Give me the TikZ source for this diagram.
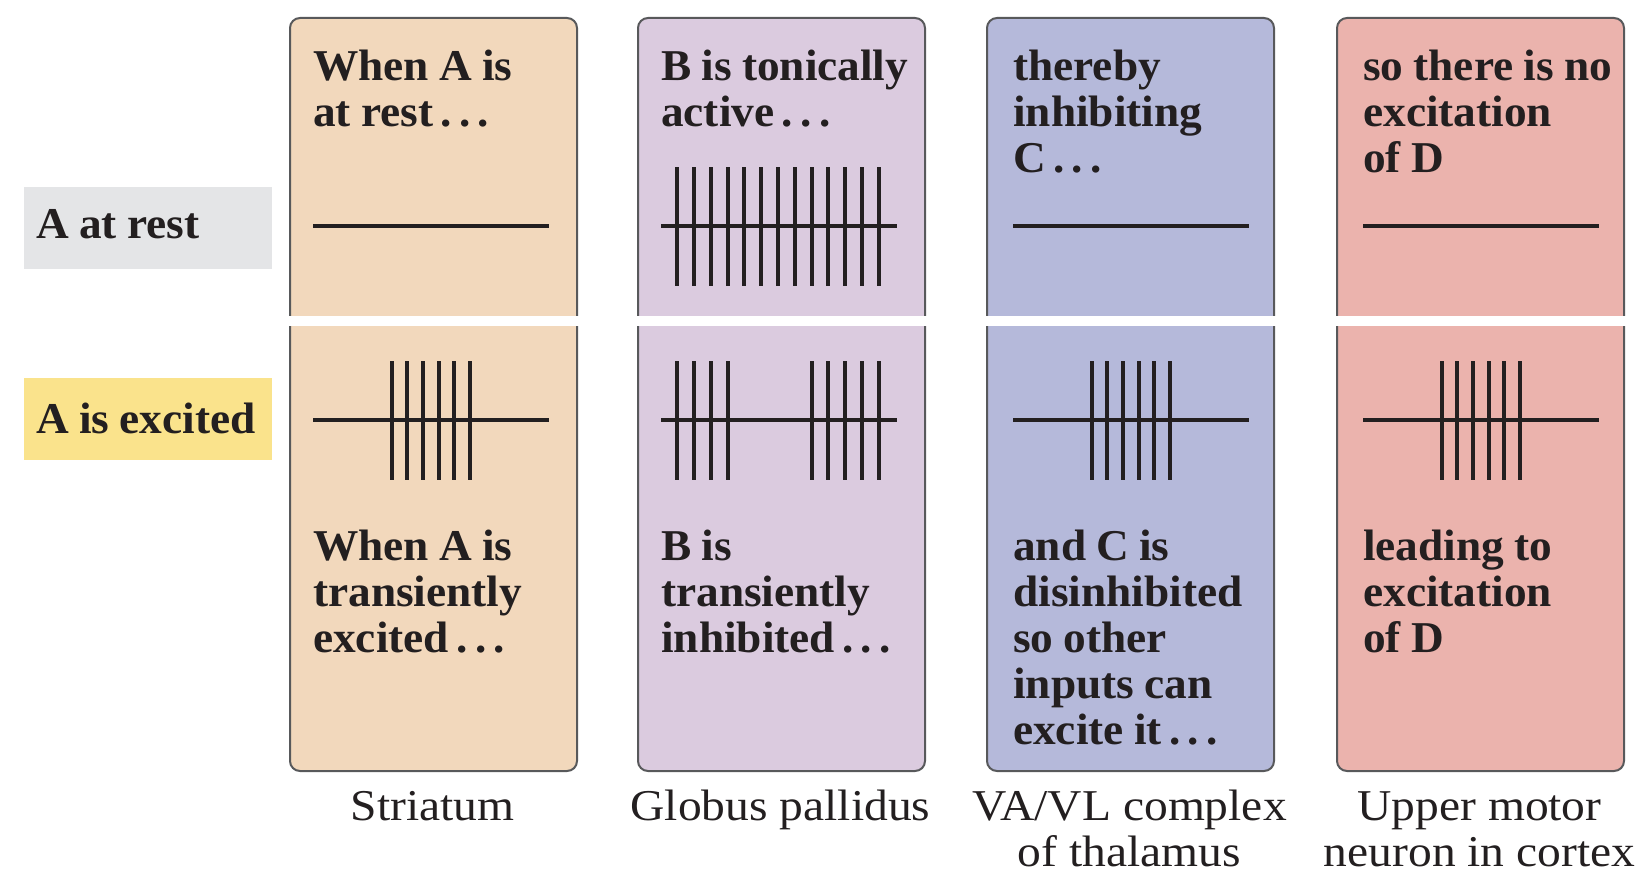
\documentclass[tikz,border=0pt]{standalone}
\usepackage{fontspec}
\setmainfont{Liberation Serif}[BoldFeatures={FakeStretch=1.03, WordSpace=0.9}]
\newfontfamily\widefont{Liberation Serif}[FakeStretch=1.08]

\definecolor{ink}{HTML}{231F20}
\definecolor{frame}{HTML}{58595B}
\definecolor{peach}{HTML}{F2D8BC}
\definecolor{lilac}{HTML}{DBCBDF}
\definecolor{periwinkle}{HTML}{B5B9DA}
\definecolor{salmon}{HTML}{EBB3AD}
\definecolor{restgrey}{HTML}{E4E5E7}
\definecolor{excitedyellow}{HTML}{FAE38C}

\tikzset{
  panel/.style={draw=frame, line width=2pt, rounded corners=10pt,
    anchor=north west, minimum width=287pt, minimum height=753pt, inner sep=0pt},
  gapband/.style={fill=white, draw=none},
  tagbox/.style={draw=none, anchor=north west, minimum width=248pt,
    minimum height=82pt, inner sep=0pt},
  trace/.style={line width=4.5pt, draw=ink},
  spike/.style={line width=4pt, draw=ink},
  blurb/.style={anchor=base west, inner sep=0pt, text width=275pt, align=flush left,
    font=\fontsize{44}{46}\selectfont\bfseries, text=ink},
  tagtext/.style={anchor=base west, inner sep=0pt,
    font=\fontsize{44}{46}\selectfont\bfseries, text=ink},
  region/.style={anchor=base, inner sep=0pt, align=center,
    font=\widefont\fontsize{44}{46}\selectfont, text=ink},
}

\begin{document}
\begin{tikzpicture}[x=1pt, y=-1pt]
\useasboundingbox (0,0) rectangle (1643,875);

% row labels on the left
\node[tagbox, fill=restgrey] (restbox) at (24,187) {};
\node[tagtext] (resttext) at (36,238) {A at rest};
\node[tagbox, fill=excitedyellow] (excbox) at (24,378) {};
\node[tagtext] (exctext) at (36,433) {A is excited};

% the four panels
\node[panel, fill=peach] (striatum) at (289,17) {};
\node[panel, fill=lilac] (pallidus) at (637,17) {};
\node[panel, fill=periwinkle] (thalamus) at (986,17) {};
\node[panel, fill=salmon] (cortex) at (1336,17) {};

% white band separating the two conditions
\foreach \L in {289,637,986,1336}
  \fill[gapband] (\L-3,316) rectangle (\L+290,326);

% baseline traces: resting row (y=226) and excited row (y=420)
\foreach \s in {313,661,1013,1363} {
  \draw[trace] (\s,226) -- (\s+236,226);
  \draw[trace] (\s,420) -- (\s+236,420);
}

% globus pallidus: tonic firing at rest
\foreach \k in {0,...,12}
  \draw[spike] (677+16.83*\k,167) -- (677+16.83*\k,286);

% globus pallidus: firing paused while A is excited
\foreach \k in {0,1,2,3,8,9,10,11,12}
  \draw[spike] (677+16.83*\k,361) -- (677+16.83*\k,480);

% bursts in striatum, thalamus and cortex while A is excited
\foreach \s in {313,1013,1363}
  \foreach \k in {0,...,5}
    \draw[spike] (\s+78.7+15.67*\k,361) -- (\s+78.7+15.67*\k,480);

% panel texts, resting row
\node[blurb] (t1) at (313,81) {When A is\\at rest\,.\,.\,.};
\node[blurb] (t2) at (661,81) {B is tonically\\active\,.\,.\,.};
\node[blurb] (t3) at (1013,81) {thereby\\inhibiting\\C\,.\,.\,.};
\node[blurb] (t4) at (1363,81) {so there is no\\excitation\\of D};

% panel texts, excited row
\node[blurb] (b1) at (313,560) {When A is\\transiently\\excited\,.\,.\,.};
\node[blurb] (b2) at (661,560) {B is\\transiently\\inhibited\,.\,.\,.};
\node[blurb] (b3) at (1013,560) {and C is\\disinhibited\\so other\\inputs can\\excite it\,.\,.\,.};
\node[blurb] (b4) at (1363,560) {leading to\\excitation\\of D};

% structure names under the panels (base anchor sits on the last line)
\node[region] (n1) at (432.5,820) {Striatum};
\node[region] (n2) at (780.5,820) {Globus pallidus};
\node[region] (n3) at (1129.5,866) {VA/VL complex\\of thalamus};
\node[region] (n4) at (1479.5,866) {Upper motor\\neuron in cortex};
\end{tikzpicture}
\end{document}
